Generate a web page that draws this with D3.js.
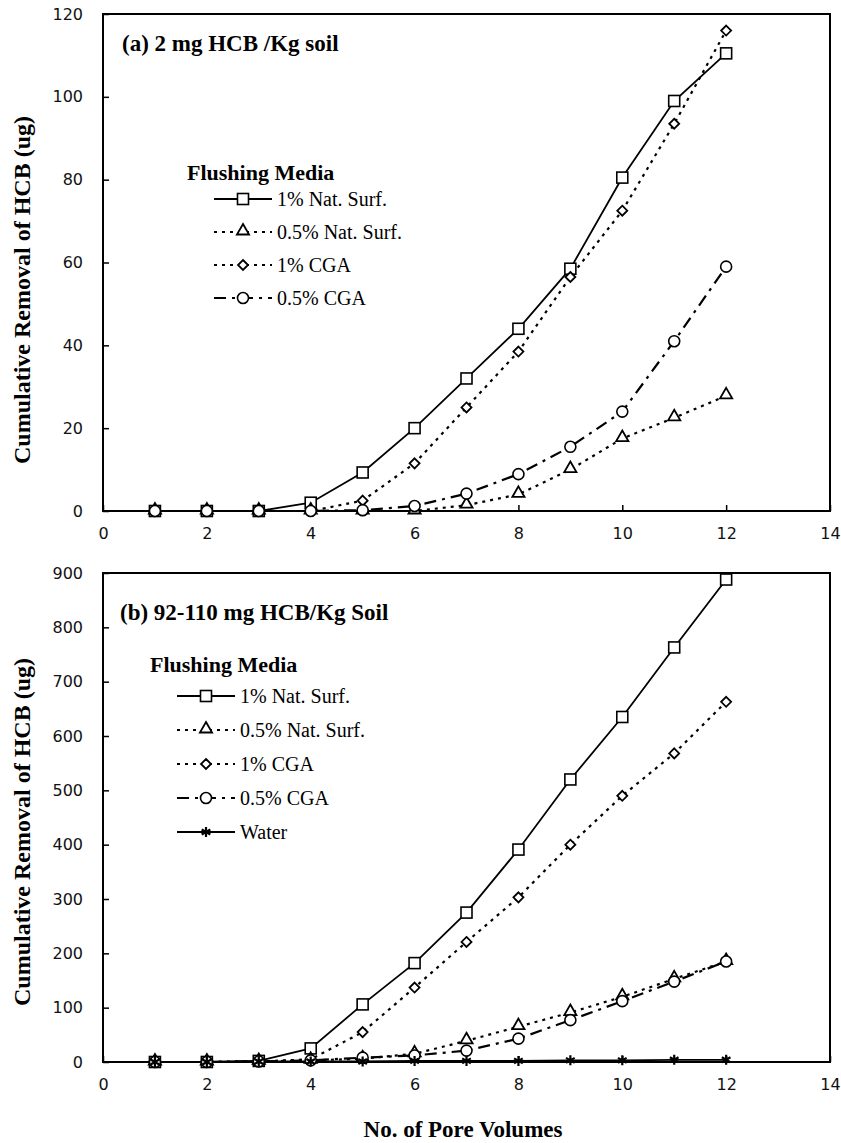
<!DOCTYPE html>
<html>
<head>
<meta charset="utf-8">
<script src="https://cdnjs.cloudflare.com/ajax/libs/d3/7.8.5/d3.min.js"></script>
<style>
  body { margin: 0; background: #fff; }
  .tick text { font-family: 'DejaVu Sans', sans-serif; font-size: 16px; fill: #111; }
</style>
</head>
<body>
<div id="chart"></div>
<script>
// pore volumes on the x axis
var poreVolumes = [1, 2, 3, 4, 5, 6, 7, 8, 9, 10, 11, 12];
var xTicks = [0, 2, 4, 6, 8, 10, 12, 14];

// panel (a) 2 mg HCB/Kg soil
var aNatSurf1  = [0, 0, 0, 2, 9.3, 20, 32, 44, 58.5, 80.5, 99, 110.5];
var aNatSurf05 = [0, 0, 0, 0, 0, 0, 1.4, 4, 10, 17.5, 22.5, 27.8];
var aCga1      = [0, 0, 0, 0, 2.5, 11.5, 25, 38.5, 56.5, 72.5, 93.5, 116];
var aCga05     = [0, 0, 0, 0, 0.2, 1.2, 4.2, 8.9, 15.5, 24, 41, 59];
var aYTicks    = [0, 20, 40, 60, 80, 100, 120];

// panel (b) 92-110 mg HCB/Kg soil
var bNatSurf1  = [0, 0, 2, 25, 106, 182, 275, 391, 520, 635, 763, 888];
var bNatSurf05 = [0, 0, 1, 3, 6, 15, 39, 65, 91, 120, 153, 185];
var bCga1      = [0, 0, 1, 5, 55, 137, 221, 303, 400, 490, 568, 663];
var bCga05     = [0, 0, 1, 3, 8, 12, 21, 43, 77, 112, 148, 185];
var bWater     = [0, 0, 1, 1, 1, 2, 2, 2, 3, 3, 4, 4];
var bYTicks    = [0, 100, 200, 300, 400, 500, 600, 700, 800, 900];

var seriesNames = ["1% Nat. Surf.", "0.5% Nat. Surf.", "1% CGA", "0.5% CGA", "Water"];

// line style + marker per series
var styles = {
  "1% Nat. Surf.":   {dash: null,        marker: "square"},
  "0.5% Nat. Surf.": {dash: "3,5",       marker: "triangle"},
  "1% CGA":          {dash: "3,5",       marker: "diamond"},
  "0.5% CGA":        {dash: "12,6,3,6",  marker: "circle"},
  "Water":           {dash: null,        marker: "star"}
};

var W = 841, H = 1143;
var svg = d3.select("#chart").append("svg")
    .attr("width", W)
    .attr("height", H)
    .style("background", "#fff");

var serif = "'Liberation Serif', 'Times New Roman', serif";

function drawMarker(g, type, cx, cy) {
  var s;
  if (type == "square") {
    g.append("rect").attr("x", cx - 5.5).attr("y", cy - 5.5).attr("width", 11).attr("height", 11)
      .attr("fill", "#fff").attr("stroke", "#000").attr("stroke-width", 1.6);
  } else if (type == "triangle") {
    s = d3.symbol().type(d3.symbolTriangle).size(64);
    g.append("path").attr("d", s()).attr("transform", "translate(" + cx + "," + (cy - 1) + ")")
      .attr("fill", "#fff").attr("stroke", "#000").attr("stroke-width", 1.8);
  } else if (type == "diamond") {
    g.append("path").attr("d", "M0,-5L5,0L0,5L-5,0Z").attr("transform", "translate(" + cx + "," + cy + ")")
      .attr("fill", "#fff").attr("stroke", "#000").attr("stroke-width", 1.8);
  } else if (type == "circle") {
    g.append("circle").attr("cx", cx).attr("cy", cy).attr("r", 5.5)
      .attr("fill", "#fff").attr("stroke", "#000").attr("stroke-width", 1.6);
  } else if (type == "star") {
    s = d3.symbol().type(d3.symbolAsterisk).size(70);
    g.append("path").attr("d", s()).attr("transform", "translate(" + cx + "," + cy + ")")
      .attr("fill", "none").attr("stroke", "#000").attr("stroke-width", 2.2);
  }
}

function drawPanel(p) {
  var x = d3.scaleLinear().domain([0, 14]).range([p.left, p.right]);
  var y = d3.scaleLinear().domain([0, p.yMax]).range([p.bottom, p.top]);

  var g = svg.append("g");

  // axes with inward ticks
  g.append("g")
    .attr("transform", "translate(0," + p.bottom + ")")
    .call(d3.axisBottom(x).tickValues(xTicks).tickSizeInner(-6).tickSizeOuter(0).tickPadding(17))
    .call(function(a) { a.select(".domain").remove(); })
    .selectAll("line").attr("stroke", "#000").attr("stroke-width", 1.5);

  g.append("g")
    .attr("transform", "translate(" + p.left + ",0)")
    .call(d3.axisLeft(y).tickValues(p.yTicks).tickSizeInner(-6).tickSizeOuter(0).tickPadding(20))
    .call(function(a) { a.select(".domain").remove(); })
    .selectAll("line").attr("stroke", "#000").attr("stroke-width", 1.5);

  // frame
  g.append("rect")
    .attr("x", p.left).attr("y", p.top)
    .attr("width", p.right - p.left).attr("height", p.bottom - p.top)
    .attr("fill", "none").attr("stroke", "#000").attr("stroke-width", 2);

  var line = d3.line()
    .x(function(d) { return x(d.pv); })
    .y(function(d) { return y(d.v); });

  p.series.forEach(function(s) {
    var st = styles[s.name];
    var pts = poreVolumes.map(function(pv, i) { return {pv: pv, v: s.values[i]}; });
    g.append("path")
      .datum(pts)
      .attr("d", line)
      .attr("fill", "none")
      .attr("stroke", "#000")
      .attr("stroke-width", st.dash ? 2.2 : 1.8)
      .attr("stroke-dasharray", st.dash);
  });
  p.series.forEach(function(s) {
    var st = styles[s.name];
    s.values.forEach(function(v, i) {
      drawMarker(g, st.marker, x(poreVolumes[i]), y(v));
    });
  });

  // panel title
  g.append("text")
    .attr("x", p.titleX).attr("y", p.titleY)
    .text(p.title)
    .style("font-family", serif).style("font-weight", "bold").style("font-size", "23px");

  // legend
  var lg = g.append("g");
  lg.append("text")
    .attr("x", p.legX).attr("y", p.legY)
    .text("Flushing Media")
    .style("font-family", serif).style("font-weight", "bold").style("font-size", "22px");

  p.series.forEach(function(s, i) {
    var st = styles[s.name];
    var ry = p.legY + p.legGap + i * p.legStep;
    var x0 = p.legX + 27, x1 = x0 + 58;
    lg.append("line")
      .attr("x1", x0).attr("x2", x1).attr("y1", ry).attr("y2", ry)
      .attr("stroke", "#000").attr("stroke-width", st.dash ? 2.2 : 1.8)
      .attr("stroke-dasharray", st.dash);
    drawMarker(lg, st.marker, (x0 + x1) / 2, ry);
    lg.append("text")
      .attr("x", x1 + 5).attr("y", ry + 7)
      .text(s.name)
      .style("font-family", serif).style("font-size", "20px");
  });

  // y axis title
  g.append("text")
    .attr("transform", "translate(30," + p.yTitleY + ") rotate(-90)")
    .attr("text-anchor", "middle")
    .text("Cumulative Removal of HCB (ug)")
    .style("font-family", serif).style("font-weight", "bold").style("font-size", "24px");
}

drawPanel({
  left: 103, right: 830, top: 14, bottom: 511, yMax: 120, yTicks: aYTicks,
  title: "(a) 2 mg HCB /Kg soil", titleX: 122, titleY: 51,
  legX: 187, legY: 180, legGap: 19, legStep: 33, yTitleY: 290,
  series: [
    {name: seriesNames[0], values: aNatSurf1},
    {name: seriesNames[1], values: aNatSurf05},
    {name: seriesNames[2], values: aCga1},
    {name: seriesNames[3], values: aCga05}
  ]
});

drawPanel({
  left: 103, right: 830, top: 573, bottom: 1062, yMax: 900, yTicks: bYTicks,
  title: "(b) 92-110 mg HCB/Kg Soil", titleX: 120, titleY: 620,
  legX: 150, legY: 672, legGap: 24, legStep: 34, yTitleY: 832,
  series: [
    {name: seriesNames[0], values: bNatSurf1},
    {name: seriesNames[1], values: bNatSurf05},
    {name: seriesNames[2], values: bCga1},
    {name: seriesNames[3], values: bCga05},
    {name: seriesNames[4], values: bWater}
  ]
});

// x axis title
svg.append("text")
  .attr("x", 463).attr("y", 1137)
  .attr("text-anchor", "middle")
  .text("No. of Pore Volumes")
  .style("font-family", serif).style("font-weight", "bold").style("font-size", "23px");
</script>
</body>
</html>
